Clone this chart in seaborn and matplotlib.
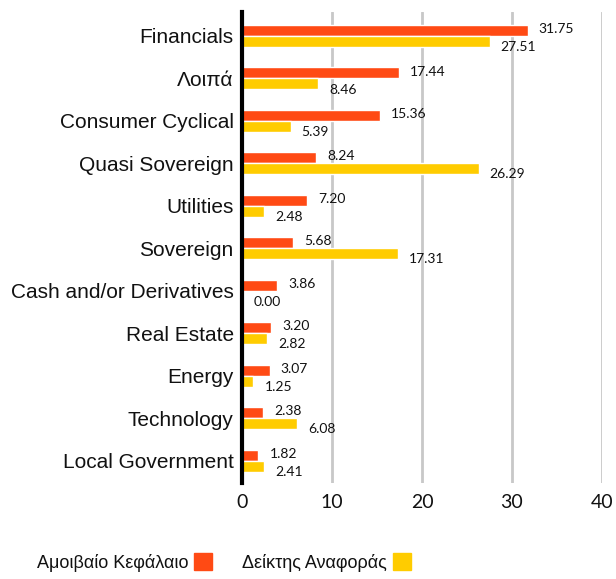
import pandas as pd
import seaborn as sns
import matplotlib.pyplot as plt

sns.set_style("white")
plt.rcParams['font.family'] = ['Liberation Sans', 'DejaVu Sans']
plt.rcParams['text.color'] = '#111111'
plt.rcParams['xtick.color'] = '#111111'
plt.rcParams['ytick.color'] = '#111111'

categories = ["Financials", "Λοιπά", "Consumer Cyclical", "Quasi Sovereign",
              "Utilities", "Sovereign", "Cash and/or Derivatives", "Real Estate",
              "Energy", "Technology", "Local Government"]
fund = [31.75, 17.44, 15.36, 8.24, 7.20, 5.68, 3.86, 3.20, 3.07, 2.38, 1.82]
index_ref = [27.51, 8.46, 5.39, 26.29, 2.48, 17.31, 0.00, 2.82, 1.25, 6.08, 2.41]
series = ["Αμοιβαίο Κεφάλαιο", "Δείκτης Αναφοράς"]
colors = ["#FF4A14", "#FFCC00"]

df = pd.DataFrame({
    "category": categories * 2,
    "value": fund + index_ref,
    "series": [series[0]] * len(categories) + [series[1]] * len(categories),
})

fig = plt.figure(figsize=(6.16, 5.79), dpi=100)
ax = fig.add_axes([0.393, 0.166, 0.584, 0.813])

sns.barplot(data=df, y="category", x="value", hue="series", order=categories,
            hue_order=series, palette=colors, orient="h", width=0.52,
            saturation=1, ax=ax, legend=False, zorder=3)

ax.set_xlim(0, 40)
ax.set_ylim(10.52, -0.56)
ax.set_xticks([0, 10, 20, 30, 40])
ax.xaxis.grid(True, color="#c8c8c8", linewidth=2, zorder=0)
ax.yaxis.grid(False)
for s in ["top", "right", "bottom"]:
    ax.spines[s].set_visible(False)
ax.spines["left"].set_linewidth(3)
ax.spines["left"].set_color("black")
ax.spines["left"].set_zorder(5)
ax.set_xlabel("")
ax.set_ylabel("")
ax.tick_params(axis="y", length=0, pad=6, labelsize=15)
ax.tick_params(axis="x", length=0, pad=8, labelsize=14)
for lab in ax.get_xticklabels():
    lab.set_fontfamily(["Lato", "DejaVu Sans"])

# value labels
for i, (a, b) in enumerate(zip(fund, index_ref)):
    ax.annotate(f"{a:.2f}", (a, i - 0.13), xytext=(8, 1), textcoords="offset points",
                va="center", ha="left", fontsize=10, family=["Lato", "DejaVu Sans"])
    ax.annotate(f"{b:.2f}", (b, i + 0.13), xytext=(8, -4), textcoords="offset points",
                va="center", ha="left", fontsize=10, family=["Lato", "DejaVu Sans"])

handles = [plt.Rectangle((0, 0), 1, 1, color=c) for c in colors]
fig.legend(handles, series, loc="center", bbox_to_anchor=(0.363, 0.029), ncol=2,
           frameon=False, markerfirst=False, fontsize=13, handlelength=0.95,
           handleheight=1.1, columnspacing=1.7, handletextpad=0.35)

fig.savefig("out.png", dpi=100)
